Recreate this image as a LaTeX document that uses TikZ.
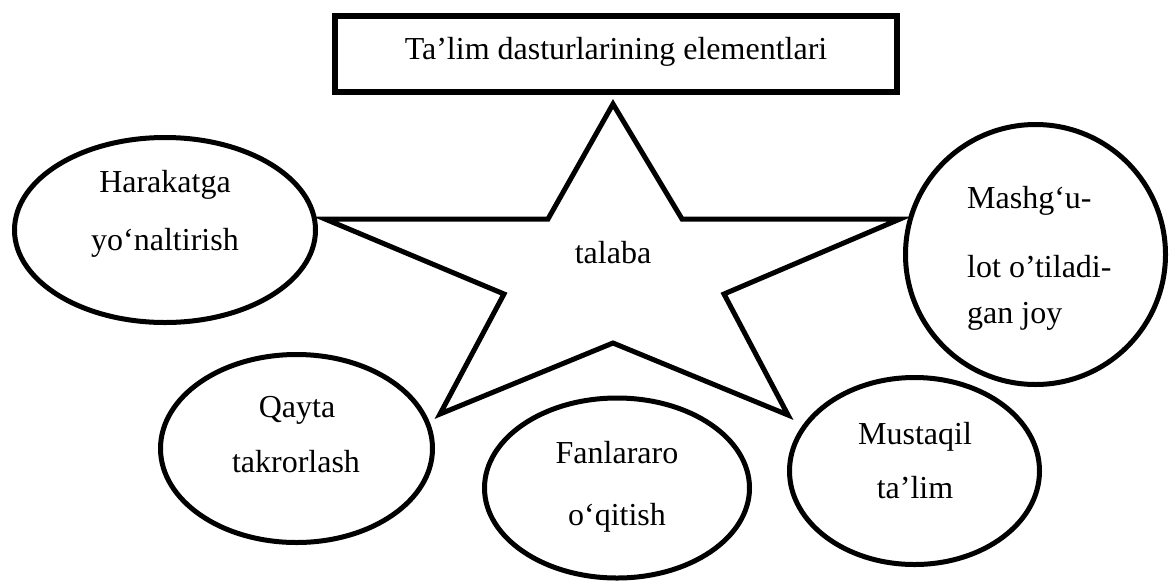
\documentclass[tikz,border=0pt]{standalone}
\usepackage{fontspec}
\setmainfont{LiberationSerif}[Extension=.ttf,UprightFont=*-Regular,BoldFont=*-Bold,ItalicFont=*-Italic,BoldItalicFont=*-BoldItalic]
\usetikzlibrary{shapes.geometric}
\begin{document}
\begin{tikzpicture}[x=1pt,y=-1pt,
  bubble/.style={ellipse,draw,line width=5pt,fill=white,inner sep=0pt},
  txt/.style={anchor=base,inner sep=0pt,font=\fontsize{32}{38}\selectfont},
  titlebox/.style={draw,line width=6pt,inner sep=0pt}]
\useasboundingbox (0,0) rectangle (1170,582);

% title box
\node[titlebox,minimum width=562pt,minimum height=76pt] (title) at (616,54) {};
\node[txt] (titletext) at (616,59) {Ta’lim dasturlarining elementlari};

% central star
\draw[line width=5pt] (613,104) -- (682,219) -- (900,219) -- (724,294)
  -- (788,415) -- (613,343) -- (440,414) -- (504,294) -- (325,219)
  -- (548,219) -- cycle;
\node[txt] (centre) at (613,263) {talaba};

% surrounding elements
\node[bubble,minimum width=301pt,minimum height=185pt] (e1) at (165,230) {};
\node[txt] (e1a) at (165,192) {Harakatga};
\node[txt] (e1b) at (165,250) {yo‘naltirish};

\node[bubble,minimum width=260pt,minimum height=260pt] (e2) at (1035.5,254.5) {};
\node[txt,anchor=base west] (e2a) at (967,208) {Mashg‘u-};
\node[txt,anchor=base west] (e2b) at (967,277) {lot o’tiladi-};
\node[txt,anchor=base west] (e2c) at (967,323) {gan joy};

\node[bubble,minimum width=272pt,minimum height=188pt] (e3) at (296.5,448.5) {};
\node[txt] (e3a) at (297,417) {Qayta};
\node[txt] (e3b) at (296,472) {takrorlash};

\node[bubble,minimum width=265pt,minimum height=180pt] (e4) at (617,488) {};
\node[txt] (e4a) at (617,463) {Fanlararo};
\node[txt] (e4b) at (617,525) {o‘qitish};

\node[bubble,minimum width=250pt,minimum height=187pt] (e5) at (914.5,471) {};
\node[txt] (e5a) at (915,444) {Mustaqil};
\node[txt] (e5b) at (915,498) {ta’lim};
\end{tikzpicture}
\end{document}
